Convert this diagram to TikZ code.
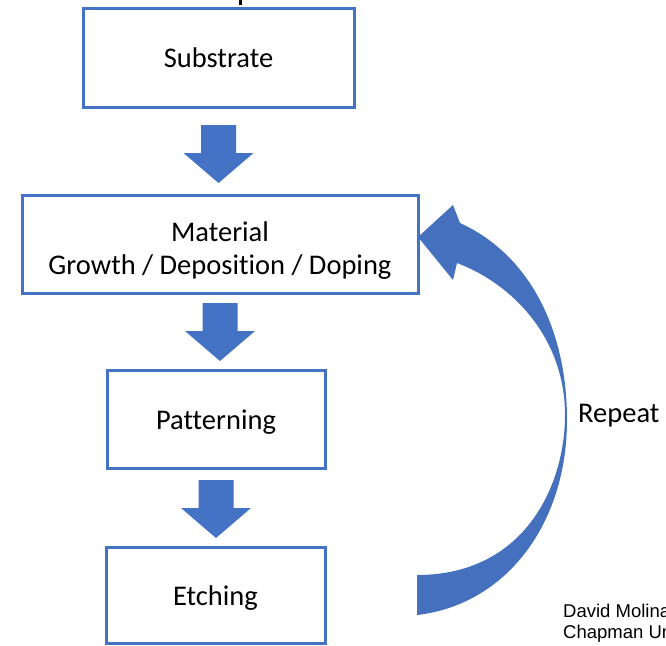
\documentclass[tikz,border=0pt]{standalone}
\usepackage{fontspec}
\setmainfont{Carlito}[Ligatures=NoCommon]
\newfontfamily\arialfont{Liberation Sans}
\usetikzlibrary{calc}
\definecolor{officeblue}{HTML}{4472C4}
\definecolor{curveblue}{HTML}{4470BE}
\tikzset{
  stepbox/.style={draw=officeblue, line width=3pt, rectangle, inner sep=0pt, outer sep=0pt,
    font=\fontsize{28.5}{32.5}\selectfont, text height=20pt, text depth=0pt, align=center},
  blockarrow/.pic={
    \fill[officeblue] (-17.5,0) -- (17.5,0) -- (17.5,28) -- (35,28) -- (0,58) -- (-35,28) -- (-17.5,28) -- cycle;
  },
  lbl/.style={font=\fontsize{28.5}{32.5}\selectfont, anchor=base west, inner sep=0pt},
  credit/.style={font=\arialfont\fontsize{18.5}{21}\selectfont, anchor=base west, inner sep=0pt}
}
\begin{document}
\begin{tikzpicture}[x=1pt, y=-1pt]
\useasboundingbox (0,0) rectangle (666,645);
% fragment of cut-off title
\fill[black] (238.5,0) rectangle (242,5);

\node[stepbox, minimum width=271pt, minimum height=99pt] (sub) at (218.5,57.5) {Substrate};
\node[stepbox, minimum width=396pt, minimum height=98pt, text height=60pt] (mat) at (220,244) {Material\\Growth / Deposition / Doping};
\node[stepbox, minimum width=218pt, minimum height=98pt] (pat) at (216,419) {Patterning};
\node[stepbox, minimum width=219pt, minimum height=96pt] (etc) at (215.5,595) {Etching};

% block arrows between the steps
\pic at ($(sub.south)+(0,18)$) {blockarrow};
\pic at ($(mat.south)+(0,10)$) {blockarrow};
\pic at ($(pat.south)+(0,12)$) {blockarrow};

% curved repeat arrow
\coordinate (tip) at ($(mat.east)+(0,-7)$);
\fill[curveblue] (417,615) .. controls (505,605) and (567,525) .. (567,420)
  .. controls (567,330) and (530,255) .. (460,223)
  -- (453,205) -- (tip) -- (453,280) -- (457,263)
  .. controls (515,285) and (565,340) .. (565,415)
  .. controls (565,485) and (525,575) .. (417,575) -- cycle;

\node[lbl] (rep) at (578,422) {Repeat};
\node[credit] (c1) at (563,617) {David Molina};
\node[credit] (c2) at (563,638) {Chapman University};
\end{tikzpicture}
\end{document}
